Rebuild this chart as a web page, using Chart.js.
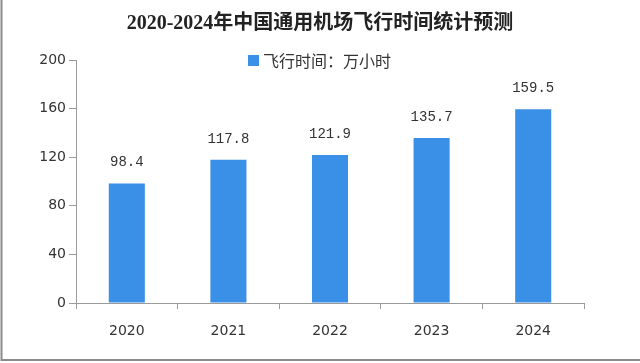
<!DOCTYPE html>
<html>
<head>
<meta charset="utf-8">
<script src="https://cdn.jsdelivr.net/npm/chart.js@4/dist/chart.umd.min.js"></script>
<style>
  html, body { margin: 0; padding: 0; background: #fff; }
  #wrap { width: 640px; height: 363px; position: relative; }
</style>
</head>
<body>
<div id="wrap"><canvas id="flightChart"></canvas></div>
<script>
// 数据
const years = ['2020', '2021', '2022', '2023', '2024'];
const flightHours = [98.4, 117.8, 121.9, 135.7, 159.5];
const yTicks = [0, 40, 80, 120, 160, 200];
const seriesName = '飞行时间：万小时';
const chartTitle = '2020-2024年中国通用机场飞行时间统计预测';

const barColor = '#3a8fe6';
const axisColor = '#9a9a9a';
const textColor = '#333333';

// white background + frame
const frame = {
  id: 'frame',
  beforeDraw(chart) {
    const ctx = chart.ctx;
    ctx.save();
    ctx.fillStyle = '#fff';
    ctx.fillRect(0, 0, chart.width, chart.height);
    ctx.strokeStyle = '#8a8a8a';
    ctx.lineWidth = 2;
    ctx.beginPath();
    ctx.moveTo(1.5, 0);
    ctx.lineTo(1.5, chart.height - 3);
    ctx.lineTo(chart.width, chart.height - 3);
    ctx.stroke();
    ctx.restore();
  }
};

// title centred on the whole canvas, legend at the height of the top tick
const header = {
  id: 'header',
  afterDraw(chart) {
    const ctx = chart.ctx;
    const ds = chart.data.datasets[0];
    ctx.save();
    ctx.textBaseline = 'middle';
    ctx.textAlign = 'center';
    ctx.fillStyle = '#222';
    ctx.font = 'bold 20px "Liberation Serif", "Noto Sans CJK SC", serif';
    ctx.fillText(chartTitle, chart.width / 2, 24);

    ctx.textAlign = 'left';
    ctx.font = '16px "Noto Sans CJK SC", sans-serif';
    const y = 61;
    const x = 248;
    ctx.fillStyle = ds.backgroundColor;
    ctx.fillRect(x, y - 6, 11, 11);
    ctx.fillStyle = textColor;
    ctx.fillText(ds.label, x + 15, y);
    ctx.restore();
  }
};

// value labels above the bars
const barValues = {
  id: 'barValues',
  afterDatasetsDraw(chart) {
    const ctx = chart.ctx;
    const meta = chart.getDatasetMeta(0);
    ctx.save();
    ctx.font = '14px "Liberation Mono", monospace';
    ctx.fillStyle = textColor;
    ctx.textAlign = 'center';
    ctx.textBaseline = 'middle';
    meta.data.forEach((bar, i) => {
      ctx.fillText(flightHours[i].toFixed(1), bar.x, bar.y - 21);
    });
    ctx.restore();
  }
};

new Chart(document.getElementById('flightChart'), {
  type: 'bar',
  data: {
    labels: years,
    datasets: [{
      label: seriesName,
      data: flightHours,
      backgroundColor: barColor,
      borderWidth: 0,
      categoryPercentage: 1,
      barPercentage: 0.355
    }]
  },
  options: {
    responsive: true,
    maintainAspectRatio: false,
    animation: false,
    layout: { padding: { left: 0, right: 56, top: 60, bottom: 0 } },
    plugins: {
      legend: { display: false },
      tooltip: { enabled: false },
      title: { display: false }
    },
    scales: {
      x: {
        grid: {
          offset: true,
          drawOnChartArea: false,
          drawTicks: true,
          tickLength: 6,
          color: axisColor
        },
        border: { color: axisColor, width: 1 },
        ticks: {
          color: textColor,
          padding: 14,
          font: { family: '"DejaVu Sans", sans-serif', size: 14 }
        },
        afterFit(scale) { scale.height = 60; }
      },
      y: {
        min: 0,
        max: 200,
        afterBuildTicks(scale) { scale.ticks = yTicks.map(v => ({ value: v })); },
        grid: {
          drawOnChartArea: false,
          drawTicks: true,
          tickLength: 7,
          color: axisColor
        },
        border: { color: axisColor, width: 1 },
        ticks: {
          color: textColor,
          padding: 3,
          font: { family: '"DejaVu Sans", sans-serif', size: 14 }
        },
        afterFit(scale) { scale.width = 76; }
      }
    }
  },
  plugins: [frame, header, barValues]
});
</script>
</body>
</html>
